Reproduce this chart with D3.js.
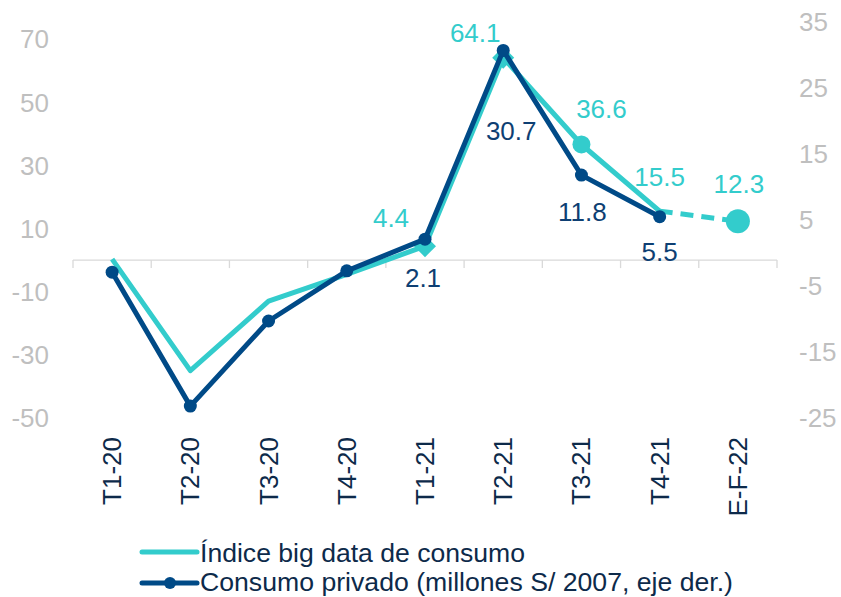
<!DOCTYPE html>
<html><head><meta charset="utf-8">
<script src="https://cdn.jsdelivr.net/npm/d3@7"></script>
<style>body{margin:0;background:#fff}svg{display:block}text{font-family:"Liberation Sans",Arial,sans-serif}</style>
</head><body><svg id="c" width="841" height="597"></svg>
<script>
const categories = ["T1-20","T2-20","T3-20","T4-20","T1-21","T2-21","T3-21","T4-21","E-F-22"];
const indiceBigData = [0.3, -35, -13, -4.5, 4.4, 64.1, 36.6, 15.5, 12.3];
const consumoPrivado = [-2.9, -23.2, -10.3, -2.7, 2.1, 30.7, 11.8, 5.5, null];
const leftTicks = [70, 50, 30, 10, -10, -30, -50];
const rightTicks = [35, 25, 15, 5, -5, -15, -25];
const indiceLabelIdx = [4, 5, 6, 7, 8];
const consumoLabelIdx = [4, 5, 6, 7];
const indiceLabelOff = [[-34,-29],[-28,-25],[20,-36],[0,-34],[1,-38]];
const consumoLabelOff = [[-2,38],[8,80],[1,37],[0,35]];
const seriesNames = ["Índice big data de consumo", "Consumo privado (millones S/ 2007, eje der.)"];

const teal = "#33CCCC", navy = "#004A87", navyText = "#0E3F73", catText = "#0D2A4A", gray = "#BFBFBF";
const svg = d3.select("#c");
const x = d3.scaleBand().domain(categories).range([73, 777]);
const yL = d3.scaleLinear().domain([-50, 70]).range([418, 39]);
const yR = d3.scaleLinear().domain([-25, 35]).range([418, 22]);
const cx = c => x(c) + x.bandwidth()/2;

// x axis
const axisY = yL(0);
svg.append("line").attr("x1",73).attr("x2",777).attr("y1",axisY).attr("y2",axisY).attr("stroke","#D9D9D9").attr("stroke-width",1.3);
const bounds = categories.map(c => x(c)).concat([777]);
svg.selectAll(".tk").data(bounds).join("line").attr("x1",d=>d).attr("x2",d=>d).attr("y1",axisY).attr("y2",axisY+8).attr("stroke","#D9D9D9").attr("stroke-width",1.3);
svg.selectAll(".cat").data(categories).join("text")
  .attr("transform", d => `translate(${cx(d)+9},437) rotate(-90)`)
  .attr("text-anchor","end").attr("font-size",26).attr("fill",catText).text(d=>d);

// y axes labels
svg.selectAll(".yl").data(leftTicks).join("text").attr("x",49).attr("y",d=>yL(d)).attr("dy","0.36em")
  .attr("text-anchor","end").attr("font-size",26).attr("fill",gray).text(d=>d);
svg.selectAll(".yr").data(rightTicks).join("text").attr("x",799).attr("y",d=>yR(d)).attr("dy","0.36em")
  .attr("text-anchor","start").attr("font-size",26).attr("fill",gray).text(d=>d);

// teal series
const solidIdx = d3.range(0, 8);
const lineL = d3.line().x(i=>cx(categories[i])).y(i=>yL(indiceBigData[i]));
svg.append("path").attr("d", lineL(solidIdx)).attr("fill","none").attr("stroke",teal).attr("stroke-width",5).attr("stroke-linejoin","round");
svg.append("path").attr("d", lineL([7,8])).attr("fill","none").attr("stroke",teal).attr("stroke-width",5).attr("stroke-dasharray","13,8");
// teal markers
[4,5].forEach(i => {
  const px = cx(categories[i]), py = yL(indiceBigData[i]), s = 11;
  svg.append("path").attr("d", `M${px},${py-s}L${px+s},${py}L${px},${py+s}L${px-s},${py}Z`).attr("fill",teal);
});
svg.append("circle").attr("cx",cx(categories[6])).attr("cy",yL(indiceBigData[6])).attr("r",9).attr("fill",teal);
svg.append("circle").attr("cx",cx(categories[8])).attr("cy",yL(indiceBigData[8])).attr("r",12).attr("fill",teal);

// navy series
const cIdx = d3.range(0, 8);
const lineR = d3.line().x(i=>cx(categories[i])).y(i=>yR(consumoPrivado[i]));
svg.append("path").attr("d", lineR(cIdx)).attr("fill","none").attr("stroke",navy).attr("stroke-width",5).attr("stroke-linejoin","round");
svg.selectAll(".dot").data(cIdx).join("circle").attr("cx",i=>cx(categories[i])).attr("cy",i=>yR(consumoPrivado[i])).attr("r",6.5).attr("fill",navy);

// data labels
svg.selectAll(".lt").data(indiceLabelIdx).join("text")
  .attr("x",(i,k)=>cx(categories[i])+indiceLabelOff[k][0]).attr("y",(i,k)=>yL(indiceBigData[i])+indiceLabelOff[k][1])
  .attr("dy","0.36em").attr("text-anchor","middle").attr("font-size",26).attr("fill",teal).text(i=>indiceBigData[i].toFixed(1));
svg.selectAll(".ln").data(consumoLabelIdx).join("text")
  .attr("x",(i,k)=>cx(categories[i])+consumoLabelOff[k][0]).attr("y",(i,k)=>yR(consumoPrivado[i])+consumoLabelOff[k][1])
  .attr("dy","0.36em").attr("text-anchor","middle").attr("font-size",26).attr("fill",navyText).text(i=>consumoPrivado[i].toFixed(1));

// legend
const lg = svg.append("g");
lg.append("line").attr("x1",142).attr("x2",197).attr("y1",552).attr("y2",552).attr("stroke",teal).attr("stroke-width",5).attr("stroke-linecap","round");
lg.append("text").attr("x",200).attr("y",562).attr("font-size",26.5).attr("fill",catText)
  .attr("textLength",325).attr("lengthAdjust","spacingAndGlyphs").text(seriesNames[0]);
lg.append("line").attr("x1",142).attr("x2",197).attr("y1",583).attr("y2",583).attr("stroke",navy).attr("stroke-width",5).attr("stroke-linecap","round");
lg.append("circle").attr("cx",170).attr("cy",583).attr("r",6).attr("fill",navy);
lg.append("text").attr("x",200).attr("y",590.5).attr("font-size",26.5).attr("fill",catText)
  .attr("textLength",533).attr("lengthAdjust","spacingAndGlyphs").text(seriesNames[1]);
</script></body></html>
